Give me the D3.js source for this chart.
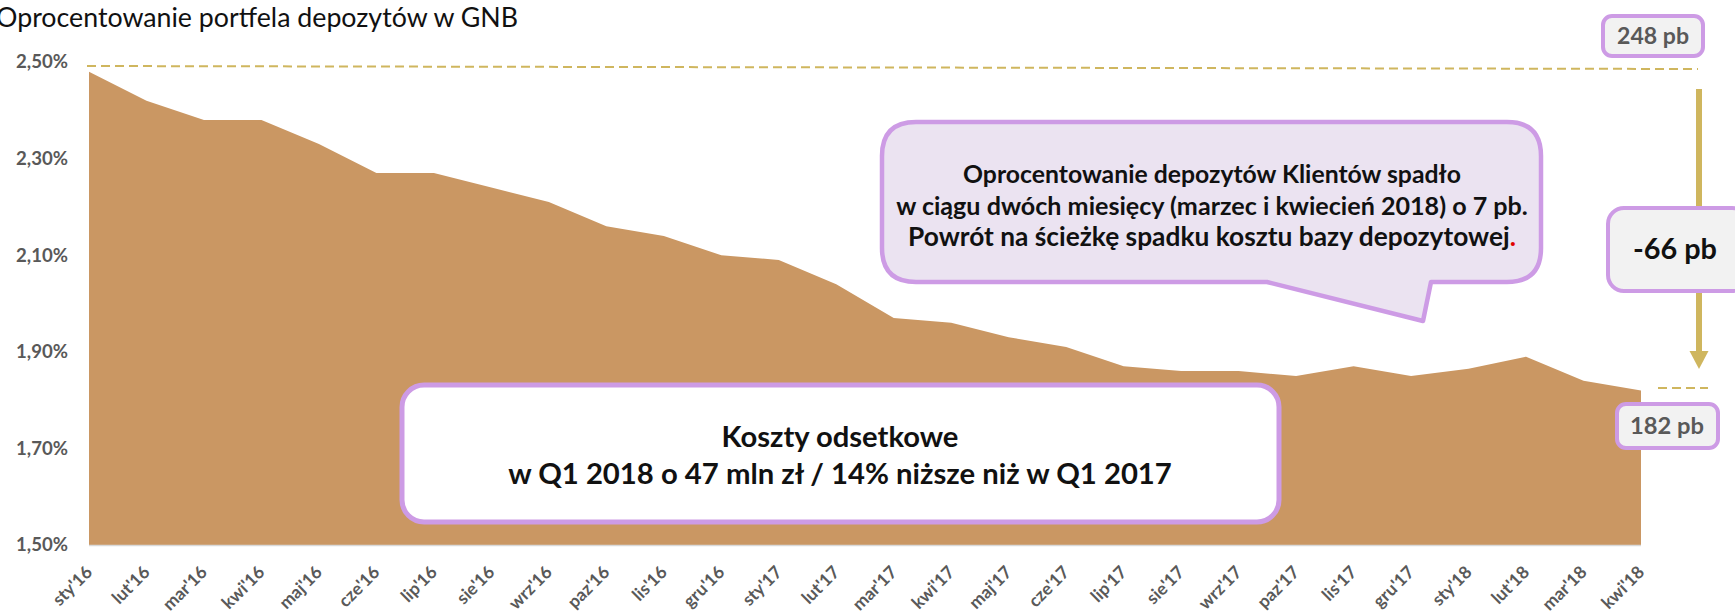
<!DOCTYPE html>
<html><head><meta charset="utf-8">
<script src="https://cdn.jsdelivr.net/npm/d3@7"></script>
<style>body{margin:0;background:#fff;}svg{display:block;}</style>
</head><body>
<svg id="c" width="1735" height="615"></svg>
<script>
const categories = ["sty'16","lut'16","mar'16","kwi'16","maj'16","cze'16","lip'16","sie'16","wrz'16","paz'16","lis'16","gru'16",
"sty'17","lut'17","mar'17","kwi'17","maj'17","cze'17","lip'17","sie'17","wrz'17","paz'17","lis'17","gru'17",
"sty'18","lut'18","mar'18","kwi'18"];
const values = [2.48,2.42,2.38,2.38,2.33,2.27,2.27,2.24,2.21,2.16,2.14,2.10,
2.09,2.04,1.97,1.96,1.93,1.91,1.87,1.86,1.86,1.85,1.87,1.85,
1.865,1.89,1.84,1.82];
const yTicks = [1.5,1.7,1.9,2.1,2.3,2.5];
const yTickLabels = ["1,50%","1,70%","1,90%","2,10%","2,30%","2,50%"];
const title = "Oprocentowanie portfela depozytów w GNB";
const bubbleLines = ["Oprocentowanie depozytów Klientów spadło","w ciągu dwóch miesięcy (marzec i kwiecień 2018) o 7 pb.","Powrót na ścieżkę spadku kosztu bazy depozytowej"];
const boxLines = ["Koszty odsetkowe","w Q1 2018 o 47 mln zł / 14% niższe niż w Q1 2017"];
const startLabel = "248 pb", endLabel = "182 pb", diffLabel = "-66 pb";

const FONT = "Lato, 'Open Sans', sans-serif";
const AREA = "#CA9763", GOLD = "#CFB65E", LAV = "#CD9BE5";
const svg = d3.select("#c");

function fit(sel, w){
  const len = sel.node().getComputedTextLength();
  const fs = parseFloat(sel.attr("font-size"));
  sel.attr("font-size", (fs*w/len).toFixed(2));
  return sel;
}

const x = d3.scalePoint().domain(categories).range([89,1641]);
const y = d3.scaleLinear().domain([1.5,2.5]).range([545,62]);

// area
const area = d3.area().x((d,i)=>x(categories[i])).y0(y(1.5)).y1(d=>y(d));
svg.append("path").datum(values).attr("d",area).attr("fill",AREA);

// x axis baseline
svg.append("line").attr("x1",x(categories[0])).attr("x2",x(categories[categories.length-1]))
  .attr("y1",y(1.5)+0.5).attr("y2",y(1.5)+0.5).attr("stroke","#D9D9D9").attr("stroke-width",1.5);

// y labels
const yAxis = d3.axisLeft(y).tickValues(yTicks).tickFormat((d,i)=>yTickLabels[i]).tickSize(0).tickPadding(0);
const gy = svg.append("g").attr("transform","translate(68,0)").call(yAxis);
gy.select(".domain").remove();
gy.selectAll("text").attr("font-family",FONT).attr("font-weight","bold").attr("font-size",15).attr("fill","#595959")
  .each(function(){ fit(d3.select(this),52); });

// x labels (rotated)
const gx = svg.append("g").attr("class","xlabels");
gx.selectAll("g").data(categories).join("g")
  .attr("transform",d=>`translate(${x(d)},569) rotate(-45)`)
  .append("text")
  .attr("text-anchor","end").attr("dy","0.35em")
  .attr("font-family",FONT).attr("font-weight","bold").attr("font-size",17.5).attr("fill","#595959")
  .text(d=>d);

// title
svg.append("text").attr("x",-4).attr("y",27).attr("font-family",FONT).attr("font-size",22).attr("fill","#111")
  .text(title).call(s=>fit(s,522));

// top dashed line
svg.append("line").attr("x1",87).attr("y1",66).attr("x2",1698).attr("y2",69)
  .attr("stroke",GOLD).attr("stroke-width",2).attr("stroke-dasharray","9,5");
// bottom dashed line
svg.append("line").attr("x1",1658).attr("y1",388).attr("x2",1708).attr("y2",388)
  .attr("stroke",GOLD).attr("stroke-width",2).attr("stroke-dasharray","9,5");

// arrow
svg.append("line").attr("x1",1699).attr("x2",1699).attr("y1",89).attr("y2",353).attr("stroke",GOLD).attr("stroke-width",6);
svg.append("path").attr("d","M1689.5,351 L1708.5,351 L1699,369 Z").attr("fill",GOLD);

// speech bubble
(function(){
  const x0=882,y0=122,x1=1541,y1=282,r=34;
  const p = d3.path();
  p.moveTo(x0+r,y0); p.lineTo(x1-r,y0); p.quadraticCurveTo(x1,y0,x1,y0+r);
  p.lineTo(x1,y1-r); p.quadraticCurveTo(x1,y1,x1-r,y1);
  p.lineTo(1431,y1); p.lineTo(1423,321); p.lineTo(1267,y1);
  p.lineTo(x0+r,y1); p.quadraticCurveTo(x0,y1,x0,y1-r);
  p.lineTo(x0,y0+r); p.quadraticCurveTo(x0,y0,x0+r,y0); p.closePath();
  svg.append("path").attr("d",p.toString()).attr("fill","#EBE3F1").attr("stroke",LAV).attr("stroke-width",4.5).attr("stroke-linejoin","round");
  const ys=[174,206,237], ws=[498,632,608];
  bubbleLines.forEach((t,i)=>{
    const tx = svg.append("text").attr("x",1212).attr("y",ys[i]).attr("dy","0.35em").attr("text-anchor","middle")
      .attr("font-family",FONT).attr("font-weight","bold").attr("font-size",19).attr("fill","#111");
    tx.append("tspan").text(t);
    if(i===2) tx.append("tspan").attr("fill","#E00000").text(".");
    fit(tx,ws[i]);
  });
})();

// bottom box
svg.append("rect").attr("x",402).attr("y",385).attr("width",877).attr("height",137).attr("rx",22)
  .attr("fill","#fff").attr("stroke",LAV).attr("stroke-width",5);
[[437,237],[474,664]].forEach((d,i)=>{
  svg.append("text").attr("x",840).attr("y",d[0]).attr("dy","0.35em").attr("text-anchor","middle")
    .attr("font-family",FONT).attr("font-weight","bold").attr("font-size",24).attr("fill","#111")
    .text(boxLines[i]).call(s=>fit(s,d[1]));
});

// right boxes
function box(x0,y0,w,h,rx,label,cx,cy,tw,fs,col){
  svg.append("rect").attr("x",x0).attr("y",y0).attr("width",w).attr("height",h).attr("rx",rx)
    .attr("fill","#F2F2F2").attr("stroke",LAV).attr("stroke-width",4);
  svg.append("text").attr("x",cx).attr("y",cy).attr("dy","0.35em").attr("text-anchor","middle")
    .attr("font-family",FONT).attr("font-weight","bold").attr("font-size",fs).attr("fill",col)
    .text(label).call(s=>fit(s,tw));
}
box(1603,16,100,40,9,startLabel,1653,36,72,18,"#595959");
box(1608,208,140,83,16,diffLabel,1675,249,84,26,"#111");
box(1617,404,101,44,9,endLabel,1667,426,74,18,"#595959");
</script>
</body></html>
